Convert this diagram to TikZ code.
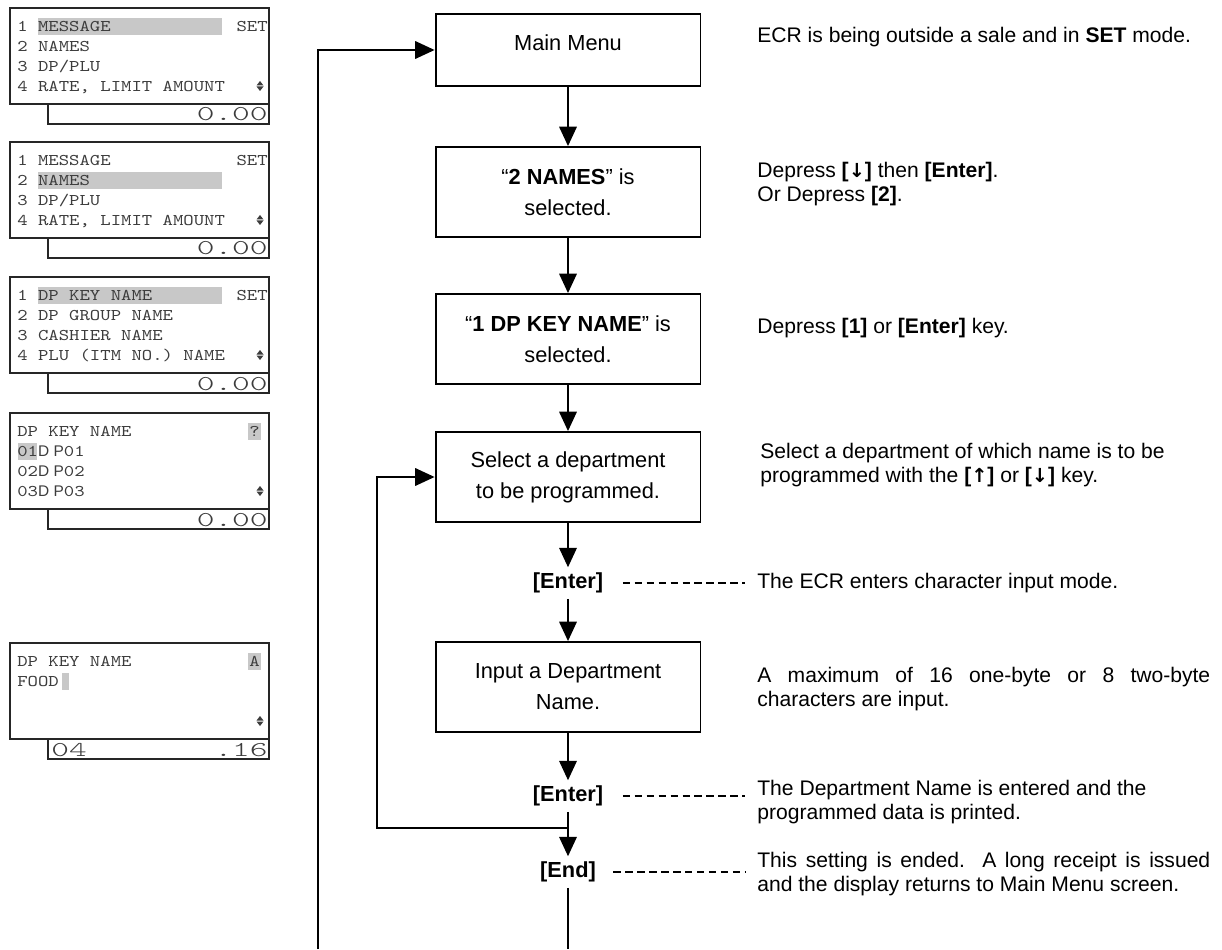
\documentclass[tikz,border=0pt]{standalone}
\usepackage{fontspec}
\setmainfont{Liberation Sans}
\newfontfamily\lcdfont{lmmono10-regular.otf}[FakeStretch=1.21]
\newfontfamily\lcdbigfont{lmmonolt10-regular.otf}[FakeStretch=1.6]
\newfontfamily\setafont{DejaVu Sans}
\usepackage{tikz}
\usetikzlibrary{arrows.meta, positioning}

\definecolor{lcdgray}{RGB}{200,200,200}
\definecolor{lcdink}{RGB}{60,60,60}

% LCD frame, #1 = top edge
\newcommand{\lcdframe}[1]{%
  \draw[lcdrim] (10,#1) rectangle (269,#1+96);
  \draw[lcdtab] (48,#1+96) -- (48,#1+116) -- (269,#1+116) -- (269,#1+96);%
}
% scroll mark, #1 = row
\newcommand{\updown}[1]{%
  \fill[lcdink] (260,#1-5) -- (256.5,#1-0.5) -- (263.5,#1-0.5) -- cycle;
  \fill[lcdink] (256.5,#1+0.5) -- (263.5,#1+0.5) -- (260,#1+5) -- cycle;%
}
\newcommand{\keydown}{\textbf{[{\setafont\fontsize{11}{13}\selectfont ↓}]}}
\newcommand{\keyup}{\textbf{[{\setafont\fontsize{11}{13}\selectfont ↑}]}}

\begin{document}
\begin{tikzpicture}[
    x=0.02cm, y=-0.02cm,
    passo/.style={
        rectangle,
        draw,
        line width=1.1pt,
        align=center,
        minimum width=5.3cm,
        minimum height=1.8cm,
        font=\fontsize{12.4}{17.6}\selectfont
    },
    tecla/.style={font=\fontsize{12.4}{14}\selectfont\bfseries, inner sep=3pt},
    nota/.style={anchor=west, align=left, inner sep=0pt, font=\fontsize{12}{13.2}\selectfont},
    seta/.style={-{Triangle[length=11pt, width=10pt]}, line width=0.85pt},
    traco/.style={dash pattern=on 4.2pt off 2.6pt, line width=0.6pt},
    lcdrim/.style={line width=1.1pt, draw=black!85},
    lcdtab/.style={line width=0.9pt, draw=black!85},
    lcdtxt/.style={font=\lcdfont\fontsize{9.3}{10}\selectfont, text=lcdink, inner sep=0pt, text height=5.7pt, text depth=0pt},
    lcdbig/.style={font=\lcdbigfont\fontsize{12}{12}\selectfont, text=lcdink, inner sep=0pt},
    marca/.style={fill=lcdgray}
]
\useasboundingbox (0,0) rectangle (1222,949);

% displays
\lcdframe{8}
\fill[marca] (38,18) rectangle (222,35);
\node[lcdtxt, anchor=west] (d1a) at (17,26) {1 MESSAGE};
\node[lcdtxt, anchor=east] (d1s) at (268,26) {SET};
\node[lcdtxt, anchor=west] (d1b) at (17,46) {2 NAMES};
\node[lcdtxt, anchor=west] (d1c) at (17,66) {3 DP/PLU};
\node[lcdtxt, anchor=west] (d1d) at (17,86) {4 RATE, LIMIT AMOUNT};
\updown{86}
\node[lcdbig, anchor=base east] (d1v) at (268,121) {0.00};

\lcdframe{142}
\fill[marca] (38,172) rectangle (222,189);
\node[lcdtxt, anchor=west] (d2a) at (17,160) {1 MESSAGE};
\node[lcdtxt, anchor=east] (d2s) at (268,160) {SET};
\node[lcdtxt, anchor=west] (d2b) at (17,180) {2 NAMES};
\node[lcdtxt, anchor=west] (d2c) at (17,200) {3 DP/PLU};
\node[lcdtxt, anchor=west] (d2d) at (17,220) {4 RATE, LIMIT AMOUNT};
\updown{220}
\node[lcdbig, anchor=base east] (d2v) at (268,255) {0.00};

\lcdframe{277}
\fill[marca] (38,287) rectangle (222,304);
\node[lcdtxt, anchor=west] (d3a) at (17,295) {1 DP KEY NAME};
\node[lcdtxt, anchor=east] (d3s) at (268,295) {SET};
\node[lcdtxt, anchor=west] (d3b) at (17,315) {2 DP GROUP NAME};
\node[lcdtxt, anchor=west] (d3c) at (17,335) {3 CASHIER NAME};
\node[lcdtxt, anchor=west] (d3d) at (17,355) {4 PLU (ITM NO.) NAME};
\updown{355}
\node[lcdbig, anchor=base east] (d3v) at (268,390) {0.00};

\lcdframe{413}
\fill[marca] (248,423) rectangle (261,440);
\fill[marca] (18,443) rectangle (37,460);
\node[lcdtxt, anchor=west] (d4a) at (17,431) {DP KEY NAME};
\node[lcdtxt] (d4q) at (254.5,431) {?};
\node[lcdtxt, anchor=west] (d4b) at (17,451) {01{\normalfont\fontsize{8.8}{9}\selectfont D\kern2.5pt P}01};
\node[lcdtxt, anchor=west] (d4c) at (17,471) {02{\normalfont\fontsize{8.8}{9}\selectfont D\kern2.5pt P}02};
\node[lcdtxt, anchor=west] (d4d) at (17,491) {03{\normalfont\fontsize{8.8}{9}\selectfont D\kern2.5pt P}03};
\updown{491}
\node[lcdbig, anchor=base east] (d4v) at (268,526) {0.00};

\lcdframe{643}
\fill[marca] (248,653) rectangle (261,670);
\fill[marca] (62,673) rectangle (69,690);
\node[lcdtxt, anchor=west] (d5a) at (17,661) {DP KEY NAME};
\node[lcdtxt] (d5m) at (254.5,661) {A};
\node[lcdtxt, anchor=west] (d5b) at (17,681) {FOOD};
\updown{721}
\node[lcdbig, anchor=base west] (d5n) at (51,756) {04};
\node[lcdbig, anchor=base east] (d5v) at (268,756) {.16};

% flow
\node[passo, minimum height=1.44cm, text height=9pt, text depth=8pt] (menu) at (568,50) {Main Menu};
\node[passo] (nomes) at (568,192) {“\textbf{2 NAMES}” is\\selected.};
\node[passo] (dpkey) at (568,339) {“\textbf{1 DP KEY NAME}” is\\selected.};
\node[passo] (depto) at (568,477) {Select a department\\to be programmed.};
\node[tecla] (enter1) at (568,583) {[Enter]};
\node[passo] (entrada) at (568,687) {Input a Department\\Name.};
\node[tecla] (enter2) at (568,796) {[Enter]};
\node[tecla] (fim) at (568,872) {[End]};

\coordinate (juncao) at (568,828);
\coordinate (retorno) at (377,828);
\coordinate (fimpe) at (568,949);
\coordinate (voltape) at (318,949);

\draw[seta] (menu) -- (nomes);
\draw[seta] (nomes) -- (dpkey);
\draw[seta] (dpkey) -- (depto);
\draw[seta] (depto) -- (enter1);
\draw[seta] (enter1) -- (entrada);
\draw[seta] (entrada) -- (enter2);
\draw[seta] (enter2) -- (fim);
\draw[line width=0.85pt] (fim) -- (fimpe);
\draw[seta] (juncao) -- (retorno) |- (depto.west);
\draw[seta] (voltape) |- (menu.west);

% comments
\node[nota] (c1) at (757,37) {ECR is being outside a sale and in \textbf{SET} mode.};
\node[nota] (c2) at (757,184) {Depress \keydown{} then \textbf{[Enter]}.\\Or Depress \textbf{[2]}.};
\node[nota] (c3) at (757,328) {Depress \textbf{[1]} or \textbf{[Enter]} key.};
\node[nota] (c4) at (760,465) {Select a department of which name is to be\\programmed with the \keyup{} or \keydown{} key.};
\node[nota] (c5) at (757,583) {The ECR enters character input mode.};
\node[nota] (c6) at (757,689) {\makebox[9.06cm][s]{A maximum of 16 one-byte or 8 two-byte}\\characters are input.};
\node[nota] (c7) at (757,802) {The Department Name is entered and the\\programmed data is printed.};
\node[nota] (c8) at (757,874) {\makebox[9.06cm][s]{This setting is ended.\ \ A long receipt is issued}\\and the display returns to Main Menu screen.};

\draw[traco, shorten <=8pt, shorten >=6.8pt] (enter1.east) -- (enter1.east -| c5.west);
\draw[traco, shorten <=8pt, shorten >=6.8pt] (enter2.east) -- (enter2.east -| c7.west);
\draw[traco, shorten <=6.8pt, shorten >=6.8pt] (fim.east) -- (fim.east -| c8.west);

\end{tikzpicture}
\end{document}
